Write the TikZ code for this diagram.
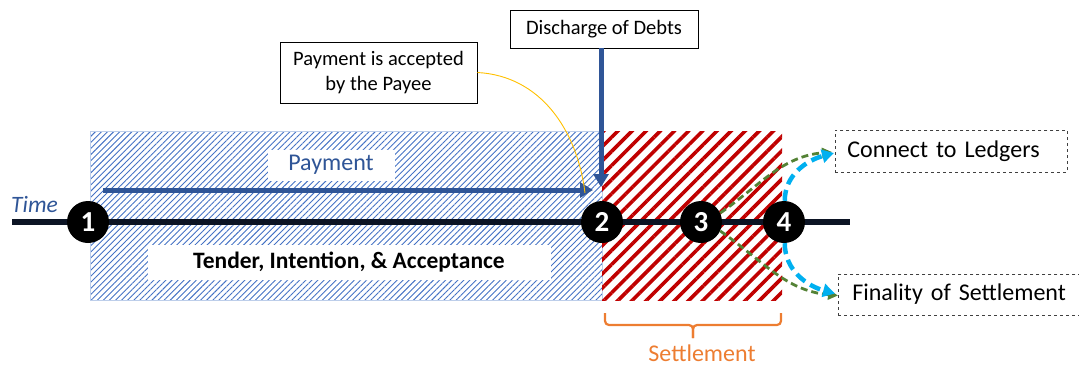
\documentclass[tikz,border=0pt]{standalone}
\usepackage{fontspec}
\setmainfont{Carlito}
\usetikzlibrary{patterns.meta,arrows.meta}

\definecolor{payblue}{HTML}{2F5597}
\definecolor{hatchblue}{HTML}{4472C4}
\definecolor{hatchred}{HTML}{C00000}
\definecolor{braceorange}{HTML}{ED7D31}
\definecolor{linkgreen}{HTML}{548235}
\definecolor{linkcyan}{HTML}{00B0F0}
\definecolor{curveyellow}{HTML}{FFC000}
\definecolor{timeline}{HTML}{0C1424}

\tikzset{
  stage/.style={circle, fill=black, text=white, minimum size=42pt, inner sep=0pt,
    font=\fontsize{29}{29}\selectfont\bfseries},
  callout/.style={draw=black, line width=0.8pt, fill=white, inner sep=0pt,
    font=\fontsize{20.5}{25}\selectfont, align=center},
  outcome/.style={draw=black!75, dashed, line width=0.7pt, fill=white, inner ysep=0pt,
    anchor=west, align=left, font=\fontsize{24}{28}\selectfont},
  label box/.style={fill=white, inner sep=0pt},
  bigarrow/.style={draw=payblue, line width=5pt, -{Triangle[length=13pt,width=15pt]}},
  greenlink/.style={draw=linkgreen, line width=2.8pt, dash pattern=on 7pt off 4pt,
    -{Triangle[length=10pt,width=10pt]}},
  cyanlink/.style={draw=linkcyan, line width=4.5pt, dash pattern=on 11pt off 6pt,
    -{Triangle[length=12pt,width=13pt]}},
}

\begin{document}
\begin{tikzpicture}[x=1pt,y=-1pt]
\useasboundingbox (0,0) rectangle (1079,367);

% phase areas
\path[pattern={Lines[angle=45,distance=4.3pt,line width=0.9pt]}, pattern color=hatchblue]
  (90,131) rectangle (602,300);
\draw[hatchblue!35, line width=0.6pt] (90,131) rectangle (602,300);
\path[pattern={Lines[angle=45,distance=10pt,line width=3.6pt]}, pattern color=hatchred]
  (602,131) rectangle (782,300);

% labels inside the payment phase
\node[label box, minimum width=127pt, minimum height=31pt, text=payblue,
  font=\fontsize{24}{28}\selectfont] (paylbl) at (331,165) {Payment};
\node[label box, minimum width=403pt, minimum height=35pt,
  font=\fontsize{23.5}{28}\selectfont\bfseries] (tia) at (349,262) {Tender, Intention, \& Acceptance};

% time axis
\coordinate (tstart) at (12,222);
\coordinate (tend) at (850,222);
\draw[timeline, line width=5.5pt] (tstart) -- (tend);
\node[text=payblue, font=\fontsize{23.5}{28}\selectfont\itshape, anchor=south west, inner sep=0pt]
  (time) at (11,213) {Time};

% payment arrow
\coordinate (pstart) at (103,190);
\coordinate (pend) at (593,190);
\draw[bigarrow] (pstart) -- (pend);

% stages
\node[stage] (c1) at (88,222) {1};
\node[stage] (c2) at (602,222) {2};
\node[stage] (c3) at (701,222) {3};
\node[stage] (c4) at (784,222) {4};

% callouts
\node[callout, minimum width=188pt, minimum height=38pt] (dd) at (604,29) {Discharge of Debts};
\coordinate (ddend) at (601,187);
\draw[bigarrow] (dd.south -| ddend) -- (ddend);

\node[callout, minimum width=197pt, minimum height=61pt] (acc) at (378.5,72.5)
  {Payment is accepted\\by the Payee};
\coordinate (accend) at (585,193);
\draw[curveyellow, line width=0.9pt] (acc.east) to[out=-3,in=97] (accend);

% settlement brace
\coordinate (bl) at (605,313);
\coordinate (br) at (781,313);
\coordinate (btip) at (693,338);
\draw[braceorange, line width=2.2pt, rounded corners=4pt]
  (bl) -- (605,325) -- (693,325) -- (btip);
\draw[braceorange, line width=2.2pt, rounded corners=4pt]
  (br) -- (781,325) -- (693,325) -- (btip);
\node[text=braceorange, font=\fontsize{24}{28}\selectfont, anchor=base, inner sep=0pt]
  (settle) at (702,361) {Settlement};

% outcomes
\node[outcome, text width=208pt, inner xsep=12pt, minimum height=42pt] (cl) at (835,151) {Connect to Ledgers};
\node[outcome, text width=217pt, inner xsep=14pt, minimum height=41pt] (fs) at (838,294.5) {Finality of Settlement};

\draw[greenlink] (c3.25) to[out=35,in=185] ([xshift=-3pt,yshift=-1pt]cl.west);
\draw[greenlink] (c3.-25) to[out=-35,in=175] ([yshift=-1pt]fs.west);
\draw[cyanlink] (c4.88) to[out=90,in=195] ([xshift=-1pt,yshift=-2pt]cl.west);
\draw[cyanlink] (c4.-88) to[out=-90,in=165] ([xshift=-3pt,yshift=1pt]fs.west);
\end{tikzpicture}
\end{document}
